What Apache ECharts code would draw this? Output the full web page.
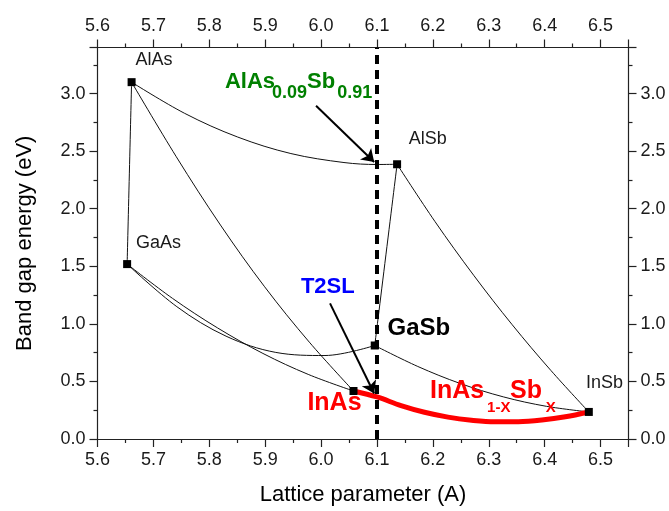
<!DOCTYPE html>
<html>
<head>
<meta charset="utf-8">
<script src="https://cdn.jsdelivr.net/npm/echarts@6/dist/echarts.min.js"></script>
<style>html,body{margin:0;padding:0;background:#fff}#c{width:669px;height:511px}</style>
</head>
<body>
<div id="c"></div>
<script>
// Binary compounds: [name, lattice parameter (A), band gap (eV)]
const binaries = [
  ['AlAs', 5.661, 3.099],
  ['AlSb', 6.136, 2.386],
  ['GaAs', 5.653, 1.519],
  ['GaSb', 6.096, 0.812],
  ['InAs', 6.058, 0.417],
  ['InSb', 6.479, 0.235]
];
// Ternary curves: [lattice parameter, band gap]
const alAsSb = [[5.661,3.099],[5.756,2.828],[5.851,2.622],[5.946,2.479],[6.041,2.401],[6.100,2.384],[6.136,2.386]];
const alGaAs = [[5.661,3.099],[5.653,1.519]];
const alInAs = [[5.661,3.099],[5.741,2.451],[5.820,1.858],[5.899,1.322],[5.979,0.841],[6.058,0.417]];
const gaAsSb = [[5.653,1.519],[5.742,1.149],[5.830,0.893],[5.919,0.752],[6.007,0.725],[6.096,0.812]];
const inGaAs = [[5.653,1.519],[5.734,1.222],[5.815,0.964],[5.896,0.743],[5.977,0.561],[6.058,0.417]];
const alGaSb = [[6.136,2.386],[6.096,0.812]];
const alInSb = [[6.136,2.386],[6.204,1.887],[6.273,1.422],[6.342,0.992],[6.411,0.596],[6.479,0.235]];
const inGaSb = [[6.096,0.812],[6.173,0.630],[6.249,0.482],[6.326,0.366],[6.403,0.284],[6.479,0.235]];
const inAsSb = [[6.058,0.417],[6.100,0.365],[6.143,0.290],[6.185,0.232],[6.227,0.190],[6.269,0.163],[6.311,0.149],[6.353,0.150],[6.395,0.165],[6.437,0.193],[6.479,0.235]];
// vertical reference at 6.1 A
const refLine = [[6.1,0],[6.1,3.4]];
// arrows: [start, end]
const arrowAlAsSb = [[5.991,2.894],[6.095,2.405]];
const arrowT2SL = [[6.016,1.178],[6.095,0.395]];
// axis ticks
const xTicks = {min:5.6, max:6.55, interval:0.1};
const yTicks = {min:0, max:3.4, interval:0.5};
// annotation texts: [text, x, y]
const plainLabels = [['AlAs',5.701,3.295],['AlSb',6.191,2.607],['GaAs',5.709,1.705],['InSb',6.507,0.484]];
const boldLabels = [['GaSb',6.175,0.957,'#000000',24],['InAs',6.024,0.313,'#ff0000',25],['T2SL',6.012,1.318,'#0000ff',22]];
const greenParts = [['AlAs',5.828,3.098,22],['0.09',5.912,3.005,18],['Sb',5.975,3.098,22],['0.91',6.029,3.005,18]];
const redParts = [['InAs',6.195,0.415,25],['1-X',6.297,0.269,15],['Sb',6.338,0.415,25],['X',6.402,0.269,15]];

const FONT = 'Liberation Sans, Arial, sans-serif';
const chart = echarts.init(document.getElementById('c'), null, {renderer:'canvas'});

function thin(data){
  return {type:'line', data:data, smooth:0.35, symbol:'none', z:3,
    lineStyle:{color:'#111', width:1}, silent:true};
}
function axisCommon(pos, ticks, showLabel, name){
  return {
    type:'value', position:pos, min:ticks.min, max:ticks.max, interval:ticks.interval,
    axisLine:{show:true, onZero:false, lineStyle:{color:'#222', width:1.2}},
    axisTick:{show:true, inside:false, length:8, lineStyle:{color:'#222', width:1.2}},
    minorTick:{show:true, splitNumber:2, length:4, lineStyle:{color:'#222', width:1.2}},
    splitLine:{show:false},
    axisLabel:{show:showLabel, fontSize:18, color:'#1a1a1a', fontFamily:FONT, margin:12,
      showMaxLabel:false, formatter:v=>v.toFixed(1)},
    name:name||'', nameLocation:'middle',
    nameTextStyle:{fontSize:22, color:'#000', fontFamily:FONT}
  };
}
const xBottom = axisCommon('bottom', xTicks, true, 'Lattice parameter (A)'); xBottom.nameGap = 45;
const xTop = axisCommon('top', xTicks, true);
const yLeft = axisCommon('left', yTicks, true, 'Band gap energy (eV)'); yLeft.nameGap = 62;
const yRight = axisCommon('right', yTicks, true);

function labelSeries(items, style){
  return {type:'scatter', symbolSize:0, z:10, silent:true, itemStyle:{color:'rgba(0,0,0,0)', opacity:1},
    data: items.map(it=>({value:[it[1],it[2]], label:Object.assign({show:true, position:'inside',
      formatter:it[0], fontFamily:FONT, textBorderWidth:0, textBorderColor:'transparent',
      textShadowBlur:0, opacity:1}, style(it))}))};
}

chart.setOption({
  animation:false,
  grid:{left:97.5, right:40.5, top:47.5, bottom:67.5},
  xAxis:[xBottom, xTop],
  yAxis:[yLeft, yRight],
  series:[
    thin(alAsSb), thin(alGaAs), thin(alInAs), thin(gaAsSb), thin(inGaAs),
    thin(alGaSb), thin(alInSb), thin(inGaSb),
    {type:'line', data:inAsSb, smooth:0.35, symbol:'none', z:4,
      lineStyle:{color:'#ff0000', width:5}},
    {type:'line', data:refLine, symbol:'none', z:5,
      lineStyle:{color:'#000', width:4, type:[9,6]}},
    {type:'scatter', data:binaries.map(b=>[b[1],b[2]]), symbol:'rect', symbolSize:8, z:6,
      itemStyle:{color:'#000', opacity:1}},
    {type:'lines', coordinateSystem:'cartesian2d', z:7, silent:true,
      symbol:['none','arrow'], symbolSize:12,
      lineStyle:{color:'#000', width:2, opacity:1, curveness:0},
      data:[{coords:arrowAlAsSb},{coords:arrowT2SL}]},
    labelSeries(plainLabels, ()=>({fontSize:18, color:'#1a1a1a', align:'center', verticalAlign:'middle'})),
    labelSeries(boldLabels, it=>({fontSize:it[4], fontWeight:'bold', color:it[3], align:'center', verticalAlign:'middle'})),
    labelSeries(greenParts, it=>({fontSize:it[3], fontWeight:'bold', color:'#008000', align:'left', verticalAlign:'middle'})),
    labelSeries(redParts, it=>({fontSize:it[3], fontWeight:'bold', color:'#ff0000', align:'left', verticalAlign:'middle'}))
  ]
});
</script>
</body>
</html>
